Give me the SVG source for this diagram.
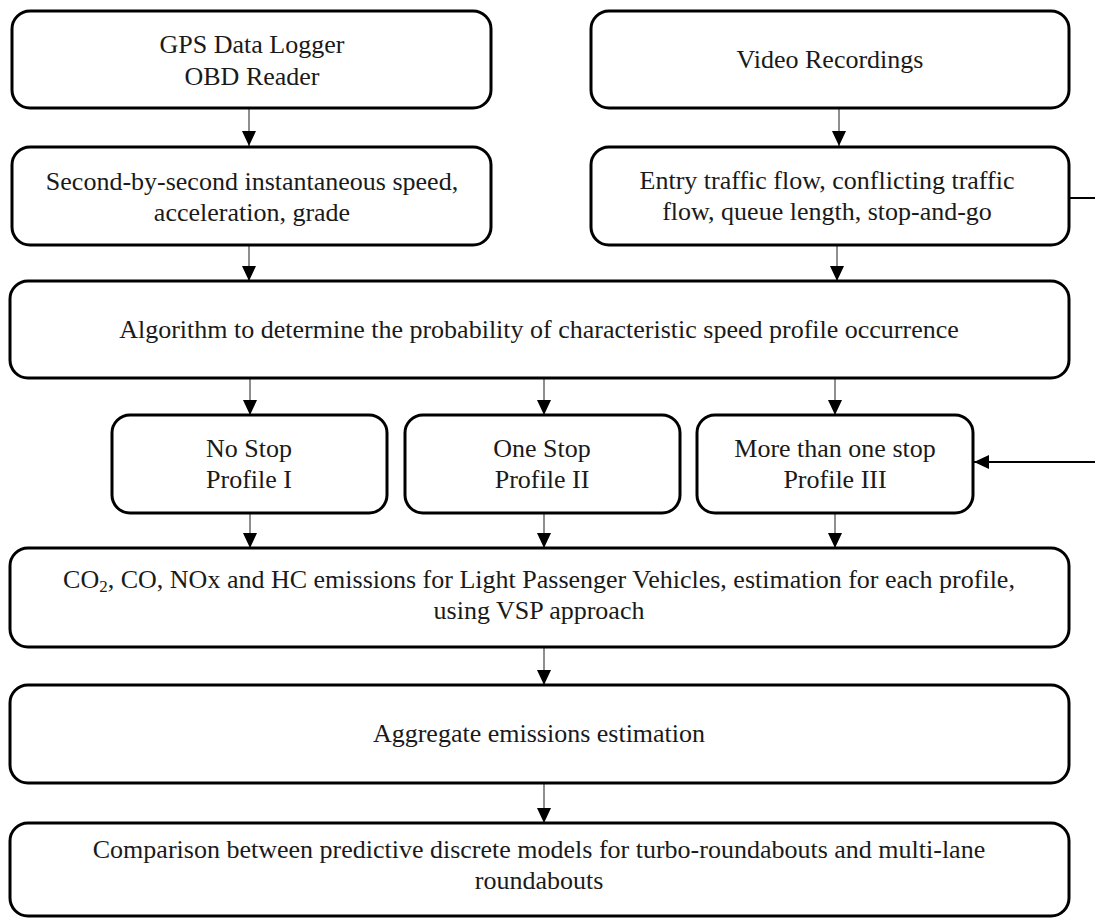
<svg xmlns="http://www.w3.org/2000/svg" width="1095" height="918" viewBox="0 0 1095 918">
<style>
.box{fill:#fff;stroke:#000;stroke-width:3}
.t{font-family:"Liberation Serif","Times New Roman",serif;font-size:26px;fill:#1a1a1a;text-anchor:middle}
.c{stroke:#444;stroke-width:1.2;fill:none}
.ct{stroke:#000;stroke-width:2;fill:none}
</style>
<defs>
<marker id="ah" markerUnits="userSpaceOnUse" markerWidth="16" markerHeight="16" viewBox="0 0 16 16" refX="15" refY="8" orient="auto">
<path d="M0,1 L15,8 L0,15 Z" fill="#000"/>
</marker>
</defs>
<g id="connectors">
<line class="c" x1="249" y1="109" x2="249" y2="146" marker-end="url(#ah)"/>
<line class="c" x1="839" y1="109" x2="839" y2="146" marker-end="url(#ah)"/>
<line class="c" x1="249" y1="245" x2="249" y2="281" marker-end="url(#ah)"/>
<line class="c" x1="837" y1="245" x2="837" y2="281" marker-end="url(#ah)"/>
<line class="c" x1="250" y1="378" x2="250" y2="415" marker-end="url(#ah)"/>
<line class="c" x1="544" y1="378" x2="544" y2="415" marker-end="url(#ah)"/>
<line class="c" x1="835" y1="378" x2="835" y2="415" marker-end="url(#ah)"/>
<line class="c" x1="250" y1="513" x2="250" y2="548" marker-end="url(#ah)"/>
<line class="c" x1="544" y1="513" x2="544" y2="548" marker-end="url(#ah)"/>
<line class="c" x1="835" y1="513" x2="835" y2="548" marker-end="url(#ah)"/>
<line class="c" x1="544" y1="647" x2="544" y2="685" marker-end="url(#ah)"/>
<line class="c" x1="544" y1="783" x2="544" y2="823" marker-end="url(#ah)"/>
<path class="ct" d="M1069,198 H1102 V462 H974" marker-end="url(#ah)"/>
</g>
<g id="n-gps">
<rect class="box" x="12" y="11" width="479" height="97" rx="18"/>
<text class="t" x="252" y="53">GPS Data Logger</text>
<text class="t" x="252" y="85">OBD Reader</text>
</g>
<g id="n-video">
<rect class="box" x="591" y="11" width="478" height="97" rx="18"/>
<text class="t" x="830" y="68">Video Recordings</text>
</g>
<g id="n-speed">
<rect class="box" x="12" y="147" width="479" height="98" rx="18"/>
<text class="t" x="252" y="190">Second-by-second instantaneous speed,</text>
<text class="t" x="252" y="221">acceleration, grade</text>
</g>
<g id="n-traffic">
<rect class="box" x="591" y="147" width="478" height="98" rx="18"/>
<text class="t" x="827" y="189">Entry traffic flow, conflicting traffic</text>
<text class="t" x="827" y="220">flow, queue length, stop-and-go</text>
</g>
<g id="n-algorithm">
<rect class="box" x="10" y="281" width="1059" height="97" rx="18"/>
<text class="t" x="539" y="338">Algorithm to determine the probability of characteristic speed profile occurrence</text>
</g>
<g id="n-p1">
<rect class="box" x="112" y="415" width="275" height="98" rx="18"/>
<text class="t" x="249" y="457">No Stop</text>
<text class="t" x="249" y="488">Profile I</text>
</g>
<g id="n-p2">
<rect class="box" x="405" y="415" width="275" height="98" rx="18"/>
<text class="t" x="542" y="457">One Stop</text>
<text class="t" x="542" y="488">Profile II</text>
</g>
<g id="n-p3">
<rect class="box" x="697" y="415" width="276" height="98" rx="18"/>
<text class="t" x="835" y="457">More than one stop</text>
<text class="t" x="835" y="488">Profile III</text>
</g>
<g id="n-emissions">
<rect class="box" x="10" y="548" width="1059" height="99" rx="18"/>
<text class="t" x="539" y="588">CO<tspan font-size="17" dy="4">2</tspan><tspan dy="-4">, CO, NOx and HC emissions for Light Passenger Vehicles, estimation for each profile,</tspan></text>
<text class="t" x="539" y="619">using VSP approach</text>
</g>
<g id="n-aggregate">
<rect class="box" x="10" y="685" width="1059" height="98" rx="18"/>
<text class="t" x="539" y="742">Aggregate emissions estimation</text>
</g>
<g id="n-comparison">
<rect class="box" x="10" y="823" width="1059" height="93" rx="18"/>
<text class="t" x="539" y="858">Comparison between predictive discrete models for turbo-roundabouts and multi-lane</text>
<text class="t" x="539" y="889">roundabouts</text>
</g>
</svg>
